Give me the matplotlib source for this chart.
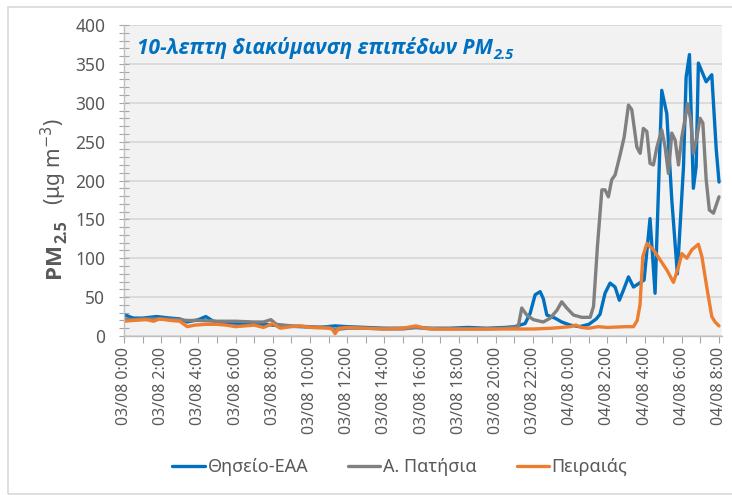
import matplotlib
matplotlib.use("Agg")
import matplotlib.pyplot as plt
from matplotlib.patches import Rectangle
from matplotlib.ticker import MultipleLocator

plt.rcParams['font.family'] = ['Noto Sans', 'DejaVu Sans']

# ---------------- data (hours since 03/08 0:00, PM2.5 in ug/m3) ----------------
series_names = ["Θησείο-ΕΑΑ", "Α. Πατήσια", "Πειραιάς"]

blue_t = [0, 0.17, 0.5, 1.0, 1.75, 2.5, 3.0, 3.4, 4.0, 4.4,
          4.8, 5.5, 6.5, 7.5, 8.5, 9.5, 10.5, 11.35, 12, 13,
          14, 15, 15.7, 16.5, 17.5, 18.5, 19.5, 20.5, 21.0, 21.57,
          21.84, 22.11, 22.38, 22.55, 22.74, 23.18, 23.54, 24.0, 24.5, 25.0,
          25.4, 25.6, 25.87, 26.14, 26.41, 26.64, 26.86, 27.13, 27.4, 27.72,
          27.97, 28.29, 28.56, 28.92, 29.19, 29.46, 29.76, 30.09, 30.23, 30.41,
          30.62, 30.77, 30.89, 31.31, 31.61, 31.85, 32.0]
blue_v = [27, 26, 23, 23, 25, 23, 22, 18, 21, 25,
          19, 17, 16, 15, 13, 12, 11, 13, 12, 11,
          10, 10, 11, 10, 10, 11, 10, 11, 12, 16,
          29, 53, 57, 48, 27, 23, 18, 14, 12, 15,
          22, 28, 55, 68, 63, 46, 59, 76, 63, 68,
          72, 151, 55, 316, 286, 175, 80, 218, 333, 362,
          190, 218, 351, 327, 336, 240, 198]

grey_t = [0, 0.5, 1, 2, 3, 3.4, 4, 5, 6, 7,
          7.5, 7.9, 8.2, 9, 10, 11, 11.35, 12, 13, 14,
          15, 15.7, 16.5, 17.5, 18.5, 19.5, 20.5, 21.2, 21.39, 21.66,
          22.02, 22.55, 22.92, 23.28, 23.54, 23.81, 24.17, 24.62, 25.07, 25.25,
          25.46, 25.7, 25.87, 26.05, 26.23, 26.41, 26.68, 26.9, 27.13, 27.31,
          27.58, 27.76, 27.93, 28.12, 28.29, 28.47, 28.66, 28.92, 29.1, 29.28,
          29.46, 29.64, 29.82, 30.0, 30.18, 30.3, 30.48, 30.62, 30.81, 30.98,
          31.13, 31.31, 31.48, 31.7, 32.0]
grey_v = [22, 21, 22, 22, 21, 20, 20, 19, 19, 18,
          18, 21, 15, 13, 12, 11, 8, 10, 10, 9,
          9, 11, 9, 9, 9, 9, 10, 12, 36, 27,
          21, 18, 23, 33, 44, 36, 27, 24, 24, 38,
          115, 188, 188, 179, 201, 207, 233, 256, 297, 291,
          243, 235, 267, 263, 222, 220, 243, 265, 243, 209,
          261, 252, 220, 256, 280, 299, 278, 235, 256, 280,
          274, 201, 162, 158, 179]

orange_t = [0, 0.5, 1.2, 1.6, 1.9, 2.5, 3.0, 3.4, 3.8, 4.4,
            5.0, 5.5, 6.0, 6.5, 7.0, 7.5, 8.0, 8.4, 9.0, 9.5,
            10.0, 11.0, 11.2, 11.35, 11.55, 12, 13, 14, 15, 15.7,
            16.2, 17, 18, 19, 20, 21, 22, 23, 24, 24.3,
            24.6, 25, 25.5, 26, 27, 27.4, 27.6, 27.75, 27.9, 28.12,
            28.47, 28.83, 29.19, 29.55, 29.82, 30.0, 30.27, 30.54, 30.89, 31.08,
            31.34, 31.61, 31.79, 32.0]
orange_v = [19, 20, 21, 19, 22, 20, 19, 12, 14, 15,
            15, 14, 12, 13, 14, 11, 16, 10, 12, 13,
            11, 10, 9, 3, 10, 11, 10, 9, 10, 13,
            10, 9, 9, 9, 9, 9, 9, 10, 12, 14,
            11, 10, 12, 11, 12, 12, 20, 40, 102, 119,
            111, 98, 85, 69, 89, 106, 100, 111, 118, 102,
            63, 25, 18, 13]

tick_hours = list(range(0, 33, 2))
tick_labels = ["03/08 0:00", "03/08 2:00", "03/08 4:00", "03/08 6:00",
               "03/08 8:00", "03/08 10:00", "03/08 12:00", "03/08 14:00",
               "03/08 16:00", "03/08 18:00", "03/08 20:00", "03/08 22:00",
               "04/08 0:00", "04/08 2:00", "04/08 4:00", "04/08 6:00",
               "04/08 8:00"]

colors = ["#0070C0", "#808080", "#ED7D31"]
txt_grey = "#595959"
bold_family = ['Open Sans', 'DejaVu Sans']

# ---------------- figure ----------------
W, H = 732, 495
fig = plt.figure(figsize=(W / 100, H / 100), dpi=100)
fig.patches.append(Rectangle((8 / W, 1 - 494 / H), (W + 5 - 8) / W, (494 - 7) / H,
                             transform=fig.transFigure, fill=False,
                             edgecolor="#D9D9D9", linewidth=1.2))

ax = fig.add_axes([124 / W, 1 - 336 / H, (722 - 124) / W, (336 - 25) / H])
ax.set_facecolor("#F2F2F2")

for t, v, c, name in zip([blue_t, grey_t, orange_t], [blue_v, grey_v, orange_v],
                         colors, series_names):
    ax.plot(t, v, color=c, lw=2.4, label=name, solid_joinstyle="round",
            solid_capstyle="round")

ax.set_xlim(0, 32.16)
ax.set_ylim(0, 400)
ax.yaxis.set_major_locator(MultipleLocator(50))
ax.yaxis.set_minor_locator(MultipleLocator(10))
ax.set_xticks(tick_hours)
ax.set_xticklabels(tick_labels, rotation=90)
ax.xaxis.set_minor_locator(MultipleLocator(1))

ax.grid(axis="y", which="major", color="#D9D9D9", lw=1.3)
ax.set_axisbelow(True)
for s in ["top", "right"]:
    ax.spines[s].set_visible(False)
for s in ["left", "bottom"]:
    ax.spines[s].set_color("#BFBFBF")
    ax.spines[s].set_linewidth(1.0)

ax.tick_params(axis="y", which="both", direction="inout", length=7, width=0.8,
               color="#A6A6A6", labelsize=12.5, labelcolor=txt_grey, pad=10)
ax.tick_params(axis="x", which="both", direction="out", length=5, width=0.8,
               color="#A6A6A6", labelsize=11.5, labelcolor=txt_grey, pad=3)

# title inside plot
t1 = ax.text(13 / 598, (336 - 48) / 311, "10-λεπτη διακύμανση επιπέδων PM",
             transform=ax.transAxes, ha="left", va="center", color="#0070C0",
             fontsize=15, fontweight="bold", fontstyle="italic", family=bold_family)
ax.annotate("2.5", xy=(1, 0.2), xycoords=t1, xytext=(0.5, 0), textcoords="offset points",
            ha="left", va="center", color="#0070C0", fontsize=10.5,
            fontweight="bold", fontstyle="italic", family=bold_family)

# y label pieces
fig.text(54 / W, 1 - 261 / H, "PM", rotation=90, ha="center", va="center",
         fontsize=16, fontweight="bold", color=txt_grey, family=bold_family)
fig.text(62 / W, 1 - 232 / H, "2.5", rotation=90, ha="center", va="center",
         fontsize=11.5, fontweight="bold", color=txt_grey, family=bold_family)
fig.text(54 / W, 1 - 162 / H, "(μg m$^{-3}$)", rotation=90, ha="center", va="center",
         fontsize=15, color=txt_grey)

leg = fig.legend(loc="center", bbox_to_anchor=(400 / W, 1 - 467 / H), ncol=3,
                 frameon=False, fontsize=13, handlelength=1.8, handletextpad=0.15,
                 columnspacing=2.2, labelcolor=txt_grey)
for l in leg.get_lines():
    l.set_linewidth(2.4)

fig.savefig("out.png", dpi=100)
